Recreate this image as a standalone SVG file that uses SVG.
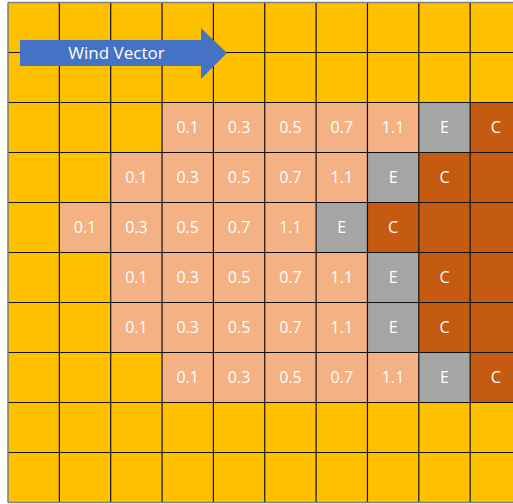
<svg xmlns="http://www.w3.org/2000/svg" width="513" height="504" viewBox="0 0 513 504">
<style>
.s{fill:#F4B183}
.e{fill:#A5A5A5}
.c{fill:#C55A11}
.t{font-family:"Open Sans","Liberation Sans",sans-serif;font-size:16px;fill:#fff;text-anchor:middle}
.g{stroke:#111;stroke-width:1.2;fill:none}
</style>
<rect width="513" height="504" fill="#fff"/>
<rect x="8" y="2.5" width="520" height="500" fill="#FFC000"/>
<g id="cells">
<g id="r2c3"><rect class="s" x="162.05" y="102.5" width="51.35" height="50"/><text class="t" x="187.7" y="133.3">0.1</text></g>
<g id="r2c4"><rect class="s" x="213.4" y="102.5" width="51.35" height="50"/><text class="t" x="239.1" y="133.3">0.3</text></g>
<g id="r2c5"><rect class="s" x="264.75" y="102.5" width="51.35" height="50"/><text class="t" x="290.4" y="133.3">0.5</text></g>
<g id="r2c6"><rect class="s" x="316.1" y="102.5" width="51.35" height="50"/><text class="t" x="341.8" y="133.3">0.7</text></g>
<g id="r2c7"><rect class="s" x="367.45" y="102.5" width="51.35" height="50"/><text class="t" x="393.1" y="133.3">1.1</text></g>
<g id="r2c8"><rect class="e" x="418.8" y="102.5" width="51.35" height="50"/><text class="t" x="444.5" y="133.3">E</text></g>
<g id="r2c9"><rect class="c" x="470.15" y="102.5" width="51.35" height="50"/><text class="t" x="495.8" y="133.3">C</text></g>

<g id="r3c2"><rect class="s" x="110.7" y="152.5" width="51.35" height="50"/><text class="t" x="136.4" y="183.3">0.1</text></g>
<g id="r3c3"><rect class="s" x="162.05" y="152.5" width="51.35" height="50"/><text class="t" x="187.7" y="183.3">0.3</text></g>
<g id="r3c4"><rect class="s" x="213.4" y="152.5" width="51.35" height="50"/><text class="t" x="239.1" y="183.3">0.5</text></g>
<g id="r3c5"><rect class="s" x="264.75" y="152.5" width="51.35" height="50"/><text class="t" x="290.4" y="183.3">0.7</text></g>
<g id="r3c6"><rect class="s" x="316.1" y="152.5" width="51.35" height="50"/><text class="t" x="341.8" y="183.3">1.1</text></g>
<g id="r3c7"><rect class="e" x="367.45" y="152.5" width="51.35" height="50"/><text class="t" x="393.1" y="183.3">E</text></g>
<g id="r3c8"><rect class="c" x="418.8" y="152.5" width="51.35" height="50"/><text class="t" x="444.5" y="183.3">C</text></g>
<g id="r3c9"><rect class="c" x="470.15" y="152.5" width="51.35" height="50"/></g>

<g id="r4c1"><rect class="s" x="59.35" y="202.5" width="51.35" height="50"/><text class="t" x="85" y="233.3">0.1</text></g>
<g id="r4c2"><rect class="s" x="110.7" y="202.5" width="51.35" height="50"/><text class="t" x="136.4" y="233.3">0.3</text></g>
<g id="r4c3"><rect class="s" x="162.05" y="202.5" width="51.35" height="50"/><text class="t" x="187.7" y="233.3">0.5</text></g>
<g id="r4c4"><rect class="s" x="213.4" y="202.5" width="51.35" height="50"/><text class="t" x="239.1" y="233.3">0.7</text></g>
<g id="r4c5"><rect class="s" x="264.75" y="202.5" width="51.35" height="50"/><text class="t" x="290.4" y="233.3">1.1</text></g>
<g id="r4c6"><rect class="e" x="316.1" y="202.5" width="51.35" height="50"/><text class="t" x="341.8" y="233.3">E</text></g>
<g id="r4c7"><rect class="c" x="367.45" y="202.5" width="51.35" height="50"/><text class="t" x="393.1" y="233.3">C</text></g>
<g id="r4c8"><rect class="c" x="418.8" y="202.5" width="51.35" height="50"/></g>
<g id="r4c9"><rect class="c" x="470.15" y="202.5" width="51.35" height="50"/></g>

<g id="r5c2"><rect class="s" x="110.7" y="252.5" width="51.35" height="50"/><text class="t" x="136.4" y="283.3">0.1</text></g>
<g id="r5c3"><rect class="s" x="162.05" y="252.5" width="51.35" height="50"/><text class="t" x="187.7" y="283.3">0.3</text></g>
<g id="r5c4"><rect class="s" x="213.4" y="252.5" width="51.35" height="50"/><text class="t" x="239.1" y="283.3">0.5</text></g>
<g id="r5c5"><rect class="s" x="264.75" y="252.5" width="51.35" height="50"/><text class="t" x="290.4" y="283.3">0.7</text></g>
<g id="r5c6"><rect class="s" x="316.1" y="252.5" width="51.35" height="50"/><text class="t" x="341.8" y="283.3">1.1</text></g>
<g id="r5c7"><rect class="e" x="367.45" y="252.5" width="51.35" height="50"/><text class="t" x="393.1" y="283.3">E</text></g>
<g id="r5c8"><rect class="c" x="418.8" y="252.5" width="51.35" height="50"/><text class="t" x="444.5" y="283.3">C</text></g>
<g id="r5c9"><rect class="c" x="470.15" y="252.5" width="51.35" height="50"/></g>

<g id="r6c2"><rect class="s" x="110.7" y="302.5" width="51.35" height="50"/><text class="t" x="136.4" y="333.3">0.1</text></g>
<g id="r6c3"><rect class="s" x="162.05" y="302.5" width="51.35" height="50"/><text class="t" x="187.7" y="333.3">0.3</text></g>
<g id="r6c4"><rect class="s" x="213.4" y="302.5" width="51.35" height="50"/><text class="t" x="239.1" y="333.3">0.5</text></g>
<g id="r6c5"><rect class="s" x="264.75" y="302.5" width="51.35" height="50"/><text class="t" x="290.4" y="333.3">0.7</text></g>
<g id="r6c6"><rect class="s" x="316.1" y="302.5" width="51.35" height="50"/><text class="t" x="341.8" y="333.3">1.1</text></g>
<g id="r6c7"><rect class="e" x="367.45" y="302.5" width="51.35" height="50"/><text class="t" x="393.1" y="333.3">E</text></g>
<g id="r6c8"><rect class="c" x="418.8" y="302.5" width="51.35" height="50"/><text class="t" x="444.5" y="333.3">C</text></g>
<g id="r6c9"><rect class="c" x="470.15" y="302.5" width="51.35" height="50"/></g>

<g id="r7c3"><rect class="s" x="162.05" y="352.5" width="51.35" height="50"/><text class="t" x="187.7" y="383.3">0.1</text></g>
<g id="r7c4"><rect class="s" x="213.4" y="352.5" width="51.35" height="50"/><text class="t" x="239.1" y="383.3">0.3</text></g>
<g id="r7c5"><rect class="s" x="264.75" y="352.5" width="51.35" height="50"/><text class="t" x="290.4" y="383.3">0.5</text></g>
<g id="r7c6"><rect class="s" x="316.1" y="352.5" width="51.35" height="50"/><text class="t" x="341.8" y="383.3">0.7</text></g>
<g id="r7c7"><rect class="s" x="367.45" y="352.5" width="51.35" height="50"/><text class="t" x="393.1" y="383.3">1.1</text></g>
<g id="r7c8"><rect class="e" x="418.8" y="352.5" width="51.35" height="50"/><text class="t" x="444.5" y="383.3">E</text></g>
<g id="r7c9"><rect class="c" x="470.15" y="352.5" width="51.35" height="50"/><text class="t" x="495.8" y="383.3">C</text></g>
</g>
<g id="grid" class="g">
<path d="M59.35 2.5V502.5M110.7 2.5V502.5M162.05 2.5V502.5M213.4 2.5V502.5M264.75 2.5V502.5M316.1 2.5V502.5M367.45 2.5V502.5M418.8 2.5V502.5M470.15 2.5V502.5"/>
<path d="M8 52.5H513M8 102.5H513M8 152.5H513M8 202.5H513M8 252.5H513M8 302.5H513M8 352.5H513M8 402.5H513M8 452.5H513"/>
<path d="M8 2.5H513M8 2.5V502.5M8 502.5H513" stroke="#808080" stroke-width="1.5"/>
</g>
<g id="connectors">
<g id="wind-vector">
<path d="M20 40H201V28L227 53L201 79V66H20Z" fill="#4472C4"/>
<text x="116.5" y="59.3" font-family="'Open Sans','Liberation Sans',sans-serif" font-size="17" fill="#fff" text-anchor="middle">Wind Vector</text>
</g>
</g>
</svg>
